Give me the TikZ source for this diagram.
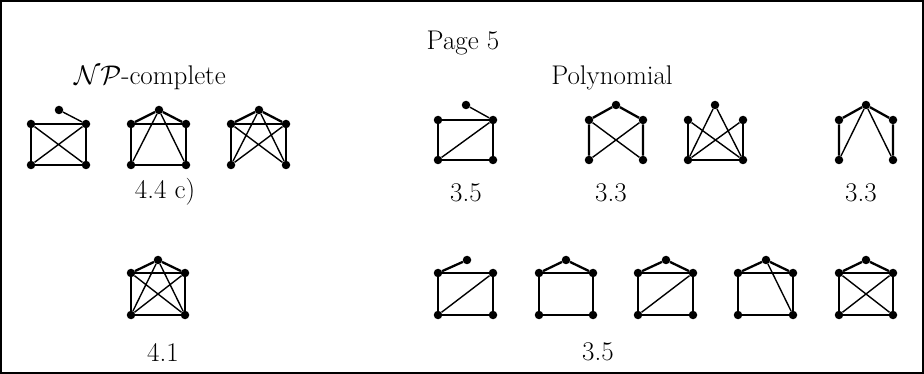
\documentclass[tikz,border=0pt]{standalone}
\usepackage{fix-cm}
\usepackage{fontspec}
% five-vertex frame: two upper corners, two lower corners, one top vertex
\newcommand\gverts[7]{%
  \node[vtx] (#1tl) at (#2,#4) {};
  \node[vtx] (#1tr) at (#3,#4) {};
  \node[vtx] (#1bl) at (#2,#5) {};
  \node[vtx] (#1br) at (#3,#5) {};
  \node[vtx] (#1p)  at (#6,#7) {};
}
\begin{document}
\begin{tikzpicture}[x=1pt,y=-1pt,
  vtx/.style={circle,fill=black,inner sep=0pt,minimum size=8.5pt},
  side/.style={line width=2.3pt},
  chord/.style={line width=1.4pt},
  lbl/.style={font=\fontsize{27}{32}\selectfont,inner sep=0pt}]
\useasboundingbox (0,0) rectangle (924,374);
\draw[line width=2pt] (1,1) rectangle (923,373);

% headings
\node[lbl] (page) at (463,43) {Page 5};
\node[lbl] (npc)  at (150,78) {$\mathcal{NP}$-complete};
\node[lbl] (poly) at (612,78) {Polynomial};

% vertices
\gverts{a}{31}{86}{124}{165}{59}{110}
\gverts{b}{131}{186}{124}{165}{159}{110}
\gverts{c}{231}{286}{124}{165}{259}{110}
\gverts{d}{438}{493}{120}{160}{466}{105}
\gverts{e}{589}{643}{120}{160}{616}{105}
\gverts{f}{688}{743}{120}{160}{715}{105}
\gverts{g}{839}{893}{120}{160}{866}{105}
\gverts{h}{131}{185}{273}{315}{158}{260}
\gverts{i}{438}{493}{273}{315}{467}{260}
\gverts{j}{539}{593}{273}{315}{566}{260}
\gverts{k}{638}{693}{273}{315}{666}{260}
\gverts{l}{738}{793}{273}{315}{766}{260}
\gverts{m}{839}{893}{273}{315}{866}{260}

% 4.4 c)
\draw[chord] (ap) -- (atr);
\draw[side] (atl) -- (atr) (atl) -- (abl) (atr) -- (abr) (abl) -- (abr);
\draw[chord] (atl) -- (abr) (atr) -- (abl);

\draw[side] (bp) -- (btl) (bp) -- (btr);
\draw[side] (btl) -- (btr) (btl) -- (bbl) (btr) -- (bbr) (bbl) -- (bbr);
\draw[chord] (bp) -- (bbl) (bp) -- (bbr);

\draw[side] (cp) -- (ctl) (cp) -- (ctr);
\draw[side] (ctl) -- (ctr) (ctl) -- (cbl) (ctr) -- (cbr);
\draw[chord] (cp) -- (cbl) (cp) -- (cbr) (ctl) -- (cbr) (ctr) -- (cbl);

% 3.5 (upper)
\draw[chord] (dp) -- (dtr);
\draw[side] (dtl) -- (dtr) (dtl) -- (dbl) (dtr) -- (dbr) (dbl) -- (dbr);
\draw[chord] (dbl) -- (dtr);

% 3.3
\draw[side] (ep) -- (etl) (ep) -- (etr) (etl) -- (ebl) (etr) -- (ebr);
\draw[chord] (etl) -- (ebr) (etr) -- (ebl);

\draw[side] (ftl) -- (fbl) (ftr) -- (fbr) (fbl) -- (fbr);
\draw[chord] (fp) -- (fbl) (fp) -- (fbr) (ftl) -- (fbr) (ftr) -- (fbl);

\draw[side] (gp) -- (gtl) (gp) -- (gtr) (gtl) -- (gbl) (gtr) -- (gbr);
\draw[chord] (gp) -- (gbl) (gp) -- (gbr);

% 4.1
\draw[side] (hp) -- (htl) (hp) -- (htr);
\draw[side] (htl) -- (htr) (htl) -- (hbl) (htr) -- (hbr) (hbl) -- (hbr);
\draw[chord] (hp) -- (hbl) (hp) -- (hbr) (htl) -- (hbr) (htr) -- (hbl);

% 3.5 (lower)
\draw[side] (ip) -- (itl);
\draw[side] (itl) -- (itr) (itl) -- (ibl) (itr) -- (ibr) (ibl) -- (ibr);
\draw[chord] (ibl) -- (itr);

\draw[side] (jp) -- (jtl) (jp) -- (jtr);
\draw[side] (jtl) -- (jtr) (jtl) -- (jbl) (jtr) -- (jbr) (jbl) -- (jbr);

\draw[side] (kp) -- (ktl) (kp) -- (ktr);
\draw[side] (ktl) -- (ktr) (ktl) -- (kbl) (ktr) -- (kbr) (kbl) -- (kbr);
\draw[chord] (kbl) -- (ktr);

\draw[side] (lp) -- (ltl) (lp) -- (ltr);
\draw[side] (ltl) -- (ltr) (ltl) -- (lbl) (ltr) -- (lbr) (lbl) -- (lbr);
\draw[chord] (lp) -- (lbr);

\draw[side] (mp) -- (mtl) (mp) -- (mtr);
\draw[side] (mtl) -- (mtr) (mtl) -- (mbl) (mtr) -- (mbr) (mbl) -- (mbr);
\draw[chord] (mtl) -- (mbr) (mtr) -- (mbl);

% labels
\node[lbl] (la) at (165,192) {4.4 c)};
\node[lbl] (lb) at (466,193) {3.5};
\node[lbl] (lc) at (611,193) {3.3};
\node[lbl] (ld) at (861,193) {3.3};
\node[lbl] (le) at (163,352) {4.1};
\node[lbl] (lf) at (598,352) {3.5};
\end{tikzpicture}
\end{document}
